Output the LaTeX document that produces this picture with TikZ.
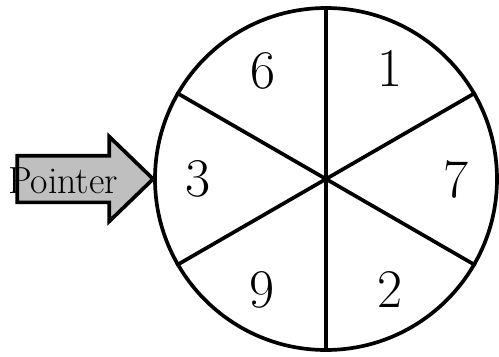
\documentclass[tikz,border=0pt]{standalone}
\usepackage{tikz}
\usetikzlibrary{shapes.arrows, positioning, calc}

\begin{document}
\begin{tikzpicture}[
  wheelstyle/.style={circle, draw=black, line width=2.1pt, minimum size=6.84cm, inner sep=0pt},
  spoke/.style={draw=black, line width=2.1pt},
  sectorlabel/.style={font=\fontsize{31}{34}\selectfont, inner sep=0pt},
  pointerarrow/.style={single arrow, draw=black, fill=gray!50, line width=2.1pt, minimum height=2.72cm, inner xsep=0pt, inner ysep=0.43cm, single arrow head extend=0.38cm, single arrow tip angle=88, outer sep=0pt}
]
  \useasboundingbox (0,0) rectangle (9.98,7.12);

  \node[wheelstyle] (wheel) at (6.52,3.54) {};

  \draw[spoke] (wheel.center) -- (wheel.90);
  \draw[spoke] (wheel.center) -- (wheel.270);
  \draw[spoke] (wheel.center) -- (wheel.30);
  \draw[spoke] (wheel.center) -- (wheel.150);
  \draw[spoke] (wheel.center) -- (wheel.210);
  \draw[spoke] (wheel.center) -- (wheel.330);

  \node[sectorlabel] (one) at ($(wheel.center)+(60:2.56)$) {1};
  \node[sectorlabel] (seven) at ($(wheel.center)+(0:2.6)$) {7};
  \node[sectorlabel] (two) at ($(wheel.center)+(-60:2.56)$) {2};
  \node[sectorlabel] (nine) at ($(wheel.center)+(-120:2.56)$) {9};
  \node[sectorlabel] (three) at ($(wheel.center)+(180:2.56)$) {3};
  \node[sectorlabel] (six) at ($(wheel.center)+(120:2.5)$) {6};

  \node[pointerarrow, anchor=tip] (pointer) at (wheel.west) {};
  \node[font=\fontsize{21.5}{24}\selectfont, inner sep=0pt] (pointertext) at (1.26,3.5) {Pointer};
\end{tikzpicture}
\end{document}
